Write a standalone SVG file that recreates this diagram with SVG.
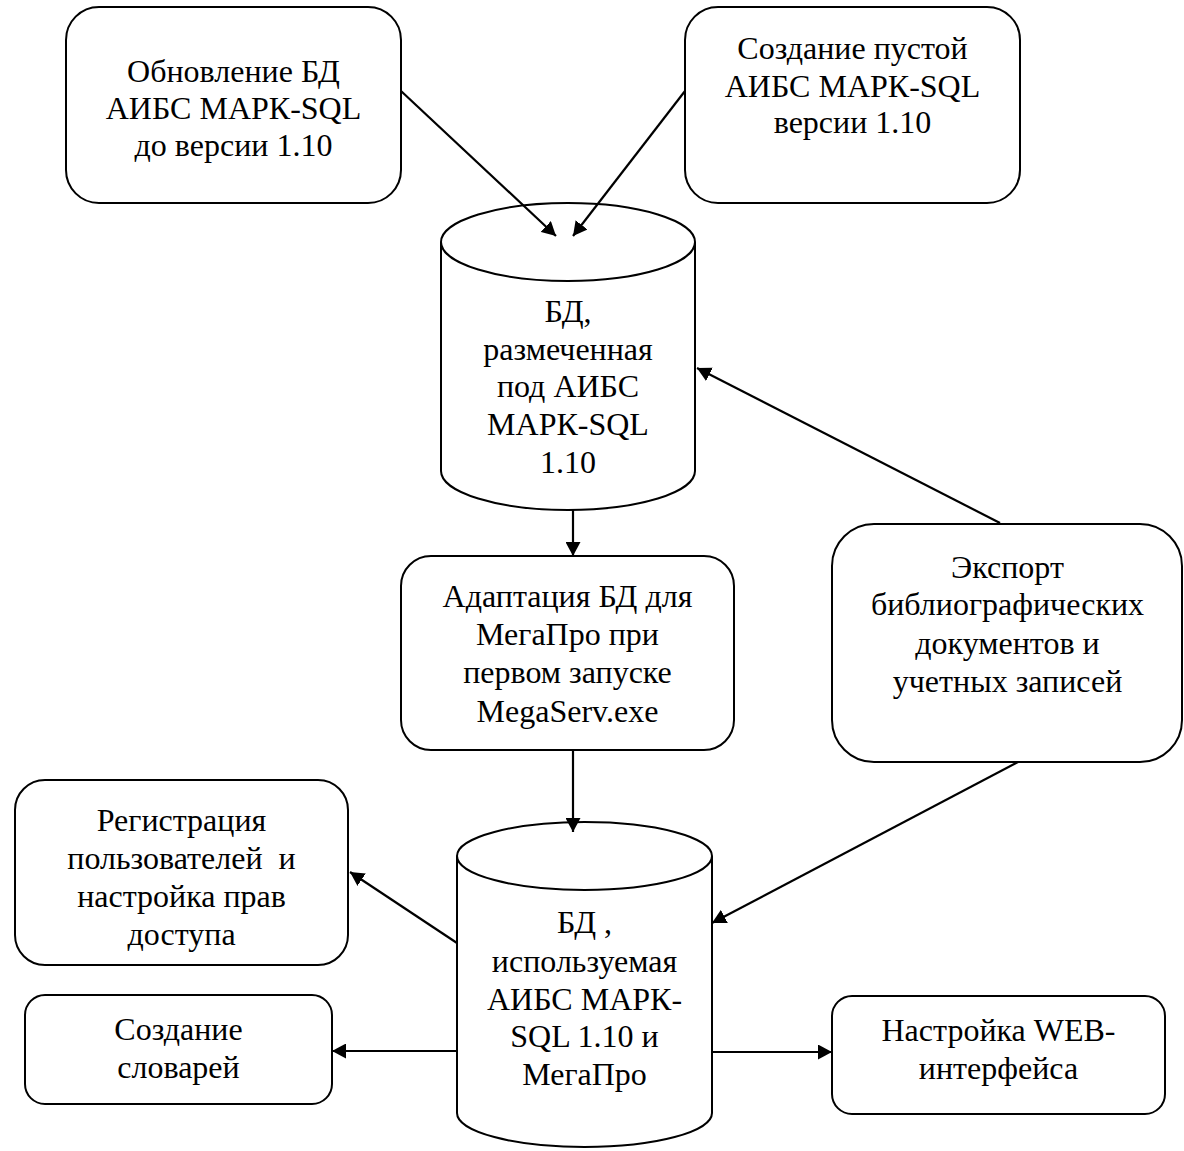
<svg xmlns="http://www.w3.org/2000/svg" width="1184" height="1151" viewBox="0 0 1184 1151">
<style>
.shape{fill:#fff;stroke:#000;stroke-width:2}
.lbl{font-family:"Liberation Serif","Times New Roman",serif;font-size:32px;fill:#000;text-anchor:middle}
.conn{stroke:#000;stroke-width:2.2;fill:none;marker-end:url(#arr)}
</style>
<defs>
<marker id="arr" viewBox="0 0 14 15" refX="14" refY="7.5" markerWidth="14" markerHeight="15" markerUnits="userSpaceOnUse" orient="auto">
<path d="M0,0 L14,7.5 L0,15 z" fill="#000"/>
</marker>
</defs>
<rect width="1184" height="1151" fill="#fff"/>

<g id="node-update">
<rect class="shape" x="66" y="7" width="335" height="196" rx="33" ry="33"/>
<text class="lbl" x="233.5" y="82">Обновление БД</text>
<text class="lbl" x="233.5" y="119">АИБС МАРК-SQL</text>
<text class="lbl" x="233.5" y="156">до версии 1.10</text>
</g>

<g id="node-create-empty">
<rect class="shape" x="685" y="7" width="335" height="196" rx="33" ry="33"/>
<text class="lbl" x="852.5" y="59">Создание пустой</text>
<text class="lbl" x="852.5" y="97">АИБС МАРК-SQL</text>
<text class="lbl" x="852.5" y="133">версии 1.10</text>
</g>

<g id="node-db-marked">
<path class="shape" d="M441,242 L441,471 A127,39 0 0 0 695,471 L695,242"/>
<ellipse class="shape" cx="568" cy="242" rx="127" ry="39"/>
<text class="lbl" x="568" y="322">БД,</text>
<text class="lbl" x="568" y="360">размеченная</text>
<text class="lbl" x="568" y="397">под АИБС</text>
<text class="lbl" x="568" y="435">МАРК-SQL</text>
<text class="lbl" x="568" y="473">1.10</text>
</g>

<g id="node-adapt">
<rect class="shape" x="401" y="556" width="333" height="194" rx="30" ry="30"/>
<text class="lbl" x="567.5" y="607">Адаптация БД для</text>
<text class="lbl" x="567.5" y="645">МегаПро при</text>
<text class="lbl" x="567.5" y="683">первом запуске</text>
<text class="lbl" x="567.5" y="722">MegaServ.exe</text>
</g>

<g id="node-export">
<rect class="shape" x="832" y="524" width="350" height="238" rx="42" ry="42"/>
<text class="lbl" x="1007.5" y="578">Экспорт</text>
<text class="lbl" x="1007.5" y="615">библиографических</text>
<text class="lbl" x="1007.5" y="654">документов и</text>
<text class="lbl" x="1007.5" y="692">учетных записей</text>
</g>

<g id="node-db-used">
<path class="shape" d="M457,856 L457,1113 A127.5,34 0 0 0 712,1113 L712,856"/>
<ellipse class="shape" cx="584.5" cy="856" rx="127.5" ry="34"/>
<text class="lbl" x="584.5" y="933">БД ,</text>
<text class="lbl" x="584.5" y="972">используемая</text>
<text class="lbl" x="584.5" y="1010">АИБС МАРК-</text>
<text class="lbl" x="584.5" y="1047">SQL 1.10 и</text>
<text class="lbl" x="584.5" y="1085">МегаПро</text>
</g>

<g id="node-register">
<rect class="shape" x="15" y="780" width="333" height="185" rx="30" ry="30"/>
<text class="lbl" x="181.5" y="831">Регистрация</text>
<text class="lbl" x="181.5" y="869" xml:space="preserve" style="white-space:pre">пользователей  и</text>
<text class="lbl" x="181.5" y="907">настройка прав</text>
<text class="lbl" x="181.5" y="945">доступа</text>
</g>

<g id="node-dict">
<rect class="shape" x="25" y="995" width="307" height="109" rx="20" ry="20"/>
<text class="lbl" x="178.5" y="1040">Создание</text>
<text class="lbl" x="178.5" y="1078">словарей</text>
</g>

<g id="node-web">
<rect class="shape" x="832" y="996" width="333" height="118" rx="20" ry="20"/>
<text class="lbl" x="998.5" y="1041">Настройка WEB-</text>
<text class="lbl" x="998.5" y="1079">интерфейса</text>
</g>

<g id="connectors">
<line class="conn" x1="401" y1="91" x2="556" y2="236"/>
<line class="conn" x1="685" y1="91" x2="573" y2="236"/>
<line class="conn" x1="1000" y1="523" x2="697" y2="368"/>
<line class="conn" x1="573" y1="510" x2="573" y2="556"/>
<line class="conn" x1="573" y1="750" x2="573" y2="832"/>
<line class="conn" x1="1018" y1="762" x2="712" y2="923"/>
<line class="conn" x1="457" y1="943" x2="350" y2="872"/>
<line class="conn" x1="457" y1="1051" x2="332" y2="1051"/>
<line class="conn" x1="712" y1="1052" x2="832" y2="1052"/>
</g>
</svg>
